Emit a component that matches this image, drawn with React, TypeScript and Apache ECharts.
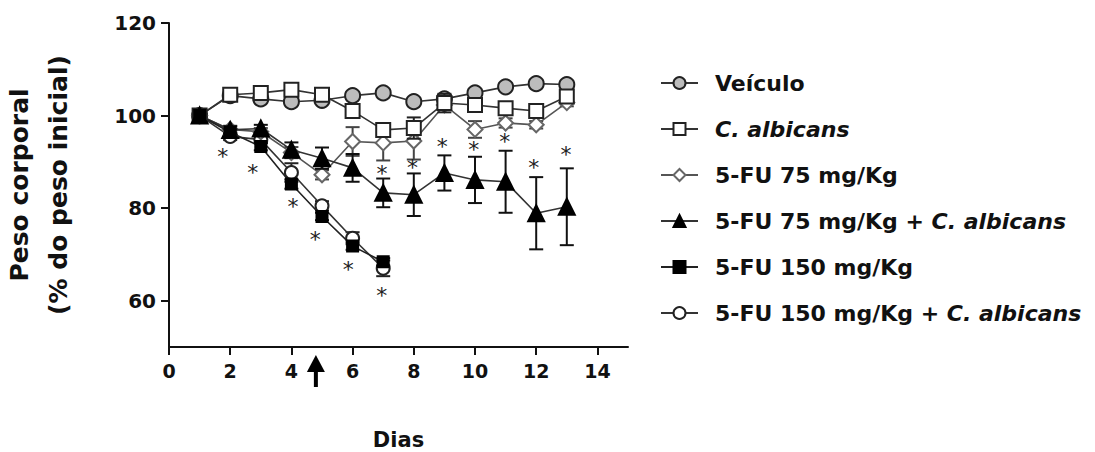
import React, { useEffect, useRef } from "react";
import * as echarts from "echarts";

// ---- data ----
const days = [1, 2, 3, 4, 5, 6, 7, 8, 9, 10, 11, 12, 13];
const xTicks = [0, 2, 4, 6, 8, 10, 12, 14];
const yTicks = [60, 80, 100, 120];

const seriesNames = [
  "Veículo",
  "C. albicans",
  "5-FU 75 mg/Kg",
  "5-FU 75 mg/Kg + C. albicans",
  "5-FU 150 mg/Kg",
  "5-FU 150 mg/Kg + C. albicans",
];

const veiculo = [100, 104.3, 103.6, 103.0, 103.3, 104.3, 104.9, 103.0, 103.6, 104.9, 106.2, 106.9, 106.7];
const veiculoErr = [0, 0.5, 0.5, 0.5, 0.5, 0.5, 0.5, 0.5, 0.8, 0.5, 0.5, 0.5, 0.5];

const calb = [100, 104.5, 104.9, 105.6, 104.5, 101.0, 96.9, 97.3, 102.7, 102.3, 101.6, 101.0, 104.1];
const calbErr = [0, 0.5, 0.5, 0.8, 0.5, 0.8, 1.5, 2.3, 2.0, 0.8, 0.8, 0.8, 0.8];

const fu75 = [100, 97.0, 96.5, 92.0, 87.2, 94.4, 94.1, 94.5, 102.3, 97.0, 98.4, 98.0, 102.8];
const fu75Err = [0, 0.8, 0.8, 1.2, 1.0, 3.1, 3.8, 4.0, 1.0, 1.8, 1.0, 0.8, 0.8];

const fu75c = [100, 96.9, 97.2, 92.6, 90.8, 88.7, 83.3, 82.9, 87.6, 86.1, 85.7, 78.9, 80.3];
const fu75cErr = [0, 0.8, 0.8, 1.6, 2.3, 3.0, 3.1, 4.6, 3.8, 5.0, 6.7, 7.8, 8.3];

const fu150 = [100, 96.4, 93.3, 85.2, 78.2, 71.8, 68.4];
const fu150Err = [0, 0.6, 0.8, 1.0, 0.8, 0.8, 0.8];

const fu150c = [100, 95.5, 94.8, 87.7, 80.5, 73.5, 67.0];
const fu150cErr = [0, 0.8, 0.8, 2.0, 1.0, 1.3, 1.7];

// significance marks ("*")
const starsFu150X = [1.76, 2.74, 4.05, 4.78, 5.86, 6.95];
const starsFu150Y = [92.2, 88.7, 81.4, 74.4, 67.9, 62.3];
const starsFu75cX = [6.96, 7.96, 8.93, 9.96, 10.97, 11.92, 12.97];
const starsFu75cY = [88.6, 89.8, 94.4, 93.7, 95.4, 89.8, 92.7];

// treatment arrow (day)
const arrowDay = 4.8;

const FONT = "DejaVu Sans";
const INK = "#111";

function pairs(vals: number[]) {
  return vals.map((v, i) => [days[i], v]);
}

function errData(vals: number[], errs: number[]) {
  return vals
    .map((v, i) => [days[i], v - errs[i], v + errs[i], errs[i]])
    .filter((d) => d[3] > 0);
}

function errSeries(vals: number[], errs: number[], color: string, z: number) {
  return {
    type: "custom",
    z,
    silent: true,
    itemStyle: { color },
    data: errData(vals, errs),
    renderItem: (params: any, api: any) => {
      const x = api.value(0);
      const lo = api.coord([x, api.value(1)]);
      const hi = api.coord([x, api.value(2)]);
      const w = 7;
      const style = { stroke: color, lineWidth: 2 };
      return {
        type: "group",
        children: [
          { type: "line", shape: { x1: lo[0], y1: lo[1], x2: hi[0], y2: hi[1] }, style },
          { type: "line", shape: { x1: lo[0] - w, y1: lo[1], x2: lo[0] + w, y2: lo[1] }, style },
          { type: "line", shape: { x1: hi[0] - w, y1: hi[1], x2: hi[0] + w, y2: hi[1] }, style },
        ],
      };
    },
  };
}

function starSeries(xs: number[], ys: number[]) {
  return {
    type: "custom",
    z: 10,
    silent: true,
    clip: false,
    itemStyle: { color: "#222" },
    data: xs.map((x, i) => [x, ys[i]]),
    renderItem: (params: any, api: any) => {
      const p = api.coord([api.value(0), api.value(1)]);
      return {
        type: "text",
        x: p[0],
        y: p[1] + 5,
        style: {
          text: "*",
          font: `22px "${FONT}"`,
          fill: "#222",
          stroke: "none",
          lineWidth: 0,
          align: "center",
          verticalAlign: "middle",
        },
      };
    },
  };
}

function lineSeries(
  name: string,
  vals: number[],
  symbol: string,
  size: number,
  fill: string,
  border: string,
  lineColor: string,
  z: number
) {
  return {
    type: "line",
    name,
    z,
    data: pairs(vals),
    symbol,
    symbolSize: size,
    showAllSymbol: true,
    lineStyle: { color: lineColor, width: 1.6 },
    itemStyle: { color: fill, borderColor: border, borderWidth: 2 },
    emphasis: { disabled: true },
  };
}

export default function App() {
  const ref = useRef<HTMLDivElement>(null);

  useEffect(() => {
    if (!ref.current) return;
    const chart = echarts.init(ref.current, null, { renderer: "svg" });

    const option: any = {
      animation: false,
      backgroundColor: "#fff",
      textStyle: { fontFamily: FONT },
      grid: {
        left: 169,
        top: 23,
        width: 459,
        height: 324,
        containLabel: false,
        outerBoundsMode: "none",
      },
      xAxis: {
        type: "value",
        min: 0,
        max: 15,
        interval: 2,
        name: "Dias",
        nameLocation: "middle",
        nameGap: 82,
        nameTextStyle: { fontSize: 21, fontWeight: "bold", color: INK, fontFamily: FONT },
        splitLine: { show: false },
        axisLine: { show: true, onZero: false, lineStyle: { color: INK, width: 2 } },
        axisTick: { show: true, length: 8, customValues: xTicks, lineStyle: { color: INK, width: 2 } },
        axisLabel: {
          customValues: xTicks,
          margin: 14,
          fontSize: 19,
          fontWeight: "bold",
          color: INK,
          fontFamily: FONT,
        },
      },
      yAxis: {
        type: "value",
        min: 50,
        max: 120,
        name: "Peso corporal\n(% do peso inicial)",
        nameLocation: "middle",
        nameRotate: 90,
        nameGap: 91,
        nameTextStyle: { fontSize: 25, fontWeight: "bold", color: INK, lineHeight: 39, fontFamily: FONT },
        splitLine: { show: false },
        axisLine: { show: true, onZero: false, lineStyle: { color: INK, width: 2 } },
        axisTick: { show: true, length: 8, customValues: yTicks, lineStyle: { color: INK, width: 2 } },
        axisLabel: {
          customValues: yTicks,
          margin: 13,
          fontSize: 20,
          fontWeight: "bold",
          color: INK,
          fontFamily: FONT,
        },
      },
      legend: {
        orient: "vertical",
        left: 660,
        top: 71,
        padding: 0,
        itemWidth: 37,
        itemHeight: 15,
        itemGap: 22,
        data: seriesNames,
        selectedMode: false,
        textStyle: {
          fontSize: 22,
          fontWeight: "bold",
          color: INK,
          fontFamily: FONT,
          lineHeight: 24,
          padding: [0, 0, 0, 12],
          rich: {
            i: { fontSize: 22, fontWeight: "bold", fontStyle: "italic", color: INK, fontFamily: FONT, lineHeight: 24 },
          },
        },
        formatter: (name: string) => name.replace("C. albicans", "{i|C. albicans}"),
      },
      series: [
        errSeries(fu150c, fu150cErr, "#222", 2),
        lineSeries(seriesNames[5], fu150c, "circle", 13, "#fff", "#222", "#333", 2),
        errSeries(veiculo, veiculoErr, "#222", 3),
        lineSeries(seriesNames[0], veiculo, "circle", 15, "#bcbcbc", "#222", "#333", 3),
        errSeries(fu75, fu75Err, "#444", 4),
        lineSeries(seriesNames[2], fu75, "diamond", 15, "#fff", "#666", "#555", 4),
        errSeries(calb, calbErr, "#222", 5),
        lineSeries(seriesNames[1], calb, "rect", 14, "#fff", "#222", "#333", 5),
        errSeries(fu75c, fu75cErr, "#111", 6),
        lineSeries(seriesNames[3], fu75c, "triangle", 16, "#000", "#000", "#333", 6),
        errSeries(fu150, fu150Err, "#111", 7),
        lineSeries(seriesNames[4], fu150, "rect", 11, "#000", "#000", "#222", 7),
        starSeries(starsFu150X, starsFu150Y),
        starSeries(starsFu75cX, starsFu75cY),
      ],
    };

    chart.setOption(option);

    const p = chart.convertToPixel({ gridIndex: 0 }, [arrowDay, 50]) as number[];
    const ax = p[0];
    const ay = p[1];
    chart.setOption({
      graphic: [
        {
          type: "polygon",
          shape: { points: [[ax, ay + 8], [ax - 9, ay + 25], [ax + 9, ay + 25]] },
          style: { fill: "#000" },
        },
        {
          type: "rect",
          shape: { x: ax - 2, y: ay + 24, width: 4, height: 16 },
          style: { fill: "#000" },
        },
      ],
    });

    return () => chart.dispose();
  }, []);

  return (
    <div
      ref={ref}
      style={{ position: "absolute", left: 0, top: 0, width: 1095, height: 452 }}
    />
  );
}
